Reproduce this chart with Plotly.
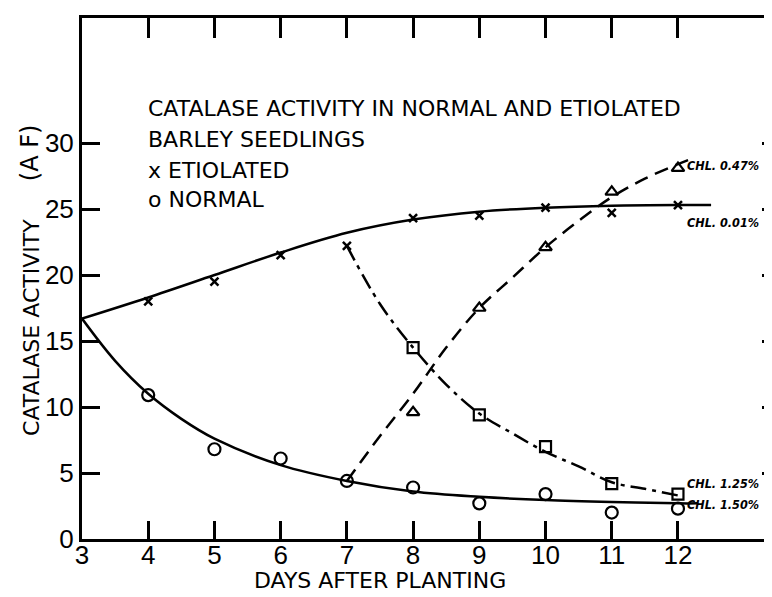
import plotly.graph_objects as go

# ---- data ----
days = [4, 5, 6, 7, 8, 9, 10, 11, 12]
etiolated = [18.0, 19.5, 21.5, 22.2, 24.3, 24.5, 25.1, 24.7, 25.3]
normal = [10.9, 6.8, 6.1, 4.4, 3.9, 2.7, 3.4, 2.0, 2.3]

shift_days = [8, 9, 10, 11, 12]
to_light = [9.6, 17.5, 22.1, 26.3, 28.1]      # triangles (etiolated -> light)
to_dark = [14.5, 9.4, 7.0, 4.2, 3.4]          # squares (normal -> dark)

# fitted (hand-drawn) curves
etio_fit_x = [3, 4, 5, 6, 7, 8, 9, 10, 11, 12, 12.5]
etio_fit_y = [16.7, 18.3, 20.0, 21.7, 23.2, 24.2, 24.8, 25.1, 25.25, 25.3, 25.3]
norm_fit_x = [3, 3.5, 4, 4.5, 5, 6, 7, 8, 9, 10, 11, 12, 12.3]
norm_fit_y = [16.7, 13.5, 11.0, 9.1, 7.6, 5.6, 4.4, 3.6, 3.2, 2.95, 2.8, 2.7, 2.7]
light_fit_x = [7, 7.5, 8, 8.5, 9, 9.5, 10, 10.5, 11, 11.5, 12, 12.2]
light_fit_y = [4.4, 7.8, 11.0, 14.5, 17.5, 19.8, 22.1, 24.1, 25.9, 27.3, 28.4, 28.8]
dark_fit_x = [7, 7.5, 8, 8.5, 9, 9.5, 10, 10.5, 11, 11.5, 12]
dark_fit_y = [22.2, 17.8, 14.5, 11.7, 9.5, 8.0, 6.6, 5.5, 4.3, 3.8, 3.3]

x_ticks = [3, 4, 5, 6, 7, 8, 9, 10, 11, 12]
y_ticks = [0, 5, 10, 15, 20, 25, 30]

title_lines = ["CATALASE ACTIVITY IN NORMAL AND ETIOLATED", "BARLEY SEEDLINGS",
               "x ETIOLATED", "o NORMAL"]
chl_labels = [("CHL. 0.47%", 28.3), ("CHL. 0.01%", 24.0), ("CHL. 1.25%", 4.2), ("CHL. 1.50%", 2.6)]

INK = "black"
fig = go.Figure()

fig.add_trace(go.Scatter(x=etio_fit_x, y=etio_fit_y, mode="lines", line=dict(color=INK, width=2.5, shape="spline")))
fig.add_trace(go.Scatter(x=norm_fit_x, y=norm_fit_y, mode="lines", line=dict(color=INK, width=2.5, shape="spline")))
fig.add_trace(go.Scatter(x=light_fit_x, y=light_fit_y, mode="lines",
                         line=dict(color=INK, width=2.5, shape="spline", dash="14px,8px")))
fig.add_trace(go.Scatter(x=dark_fit_x, y=dark_fit_y, mode="lines",
                         line=dict(color=INK, width=2.5, shape="spline", dash="16px,6px,4px,6px")))

fig.add_trace(go.Scatter(x=days, y=etiolated, mode="markers",
                         marker=dict(symbol="x-thin", size=8, line=dict(color=INK, width=2.5), color=INK)))
fig.add_trace(go.Scatter(x=days, y=normal, mode="markers",
                         marker=dict(symbol="circle-open", size=12, line=dict(color=INK, width=2.2), color=INK)))
fig.add_trace(go.Scatter(x=shift_days, y=to_light, mode="markers",
                         marker=dict(symbol="triangle-up-open", size=11, line=dict(color=INK, width=2.2), color=INK)))
fig.add_trace(go.Scatter(x=shift_days, y=to_dark, mode="markers",
                         marker=dict(symbol="square-open", size=11, line=dict(color=INK, width=2.2), color=INK)))
# invisible trace to anchor the top/right axes
fig.add_trace(go.Scatter(x=[3], y=[0], xaxis="x2", yaxis="y2", mode="markers",
                         marker=dict(opacity=0), hoverinfo="skip"))

tickfont = dict(family="Liberation Sans, Arial, sans-serif", size=26, color=INK)
fig.update_layout(
    width=772, height=597,
    margin=dict(l=74, r=8, t=10, b=66),
    paper_bgcolor="white", plot_bgcolor="white",
    showlegend=False,
    xaxis=dict(range=[3, 13.42], tickvals=x_ticks, ticks="inside", ticklen=18, tickwidth=2.5,
               tickcolor=INK, showline=True, linewidth=3, linecolor=INK, showgrid=False,
               zeroline=False, tickfont=tickfont, automargin=False, ticklabelstandoff=-9),
    yaxis=dict(range=[0, 39.47], tickvals=y_ticks, ticks="inside", ticklen=18, tickwidth=2.5,
               tickcolor=INK, showline=True, linewidth=3, linecolor=INK, showgrid=False,
               zeroline=False, tickfont=tickfont, automargin=False),
    xaxis2=dict(overlaying="x", side="top", matches="x", tickvals=x_ticks[1:], ticks="inside",
                ticklen=20, tickwidth=2.5, tickcolor=INK, showline=True, linewidth=3,
                linecolor=INK, showgrid=False, zeroline=False, showticklabels=False, automargin=False),
    yaxis2=dict(overlaying="y", side="right", matches="y", tickvals=y_ticks[1:], ticks="inside",
                ticklen=10, tickwidth=2.5, tickcolor=INK, showline=False, showgrid=False,
                zeroline=False, showticklabels=False, automargin=False),
)

label_font = dict(family="DejaVu Sans, sans-serif", size=22, color=INK)
line_y = [0.827, 0.766, 0.708, 0.651]
for txt, yy in zip(title_lines, line_y):
    fig.add_annotation(text=txt, xref="paper", yref="paper", x=0.0928, y=yy,
                       xanchor="left", yanchor="middle", showarrow=False, font=label_font)

fig.add_annotation(text="CATALASE ACTIVITY", xref="paper", yref="paper", x=-0.0725, y=0.407,
                   textangle=-90, showarrow=False, xanchor="center", yanchor="middle", font=label_font)
fig.add_annotation(text="(A F)", xref="paper", yref="paper", x=-0.075, y=0.741,
                   textangle=-90, showarrow=False, xanchor="center", yanchor="middle",
                   font=dict(family="DejaVu Sans, sans-serif", size=24, color=INK))
fig.add_annotation(text="DAYS AFTER PLANTING", xref="paper", yref="paper", x=0.432, y=-0.080,
                   showarrow=False, xanchor="center", yanchor="middle", font=label_font)

for txt, yy in chl_labels:
    fig.add_annotation(text="<b><i>" + txt + "</i></b>", x=12.11, y=yy, xref="x", yref="y",
                       xanchor="left", yanchor="middle", showarrow=False,
                       font=dict(family="DejaVu Sans Condensed, DejaVu Sans, sans-serif", size=12.5, color=INK))

fig.write_html("out.html")
